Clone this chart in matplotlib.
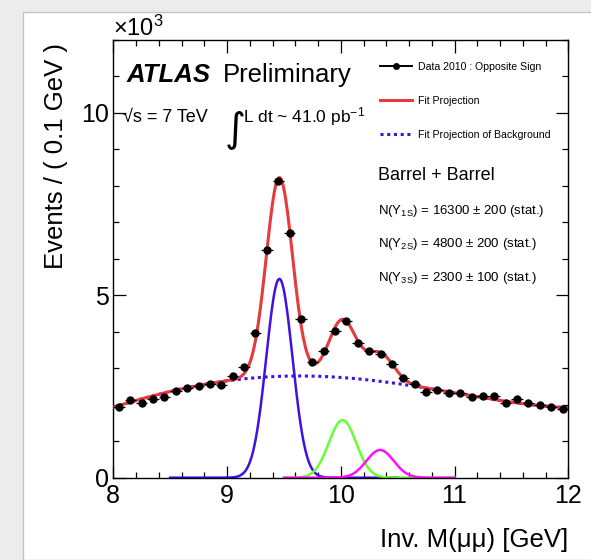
import numpy as np
import matplotlib
matplotlib.use("Agg")
import matplotlib.pyplot as plt
from matplotlib.lines import Line2D
from matplotlib.patches import Rectangle
from matplotlib.ticker import MultipleLocator

plt.rcParams['font.family'] = ['Liberation Sans', 'DejaVu Sans']
plt.rcParams['mathtext.fontset'] = 'custom'
plt.rcParams['mathtext.rm'] = 'Liberation Sans'
plt.rcParams['mathtext.it'] = 'Liberation Sans:italic'
plt.rcParams['mathtext.bf'] = 'Liberation Sans:bold'

# data, events per 0.1 GeV in units of 10^3
mass = [8.05, 8.15, 8.25, 8.35, 8.45, 8.55, 8.65, 8.75, 8.85, 8.95,
        9.05, 9.15, 9.25, 9.35, 9.45, 9.55, 9.65, 9.75, 9.85, 9.95,
        10.05, 10.15, 10.25, 10.35, 10.45, 10.55, 10.65, 10.75, 10.85, 10.95,
        11.05, 11.15, 11.25, 11.35, 11.45, 11.55, 11.65, 11.75, 11.85, 11.95]
events = [1.93, 2.13, 2.04, 2.15, 2.22, 2.38, 2.45, 2.51, 2.58, 2.54,
          2.80, 3.04, 3.97, 6.23, 8.13, 6.72, 4.35, 3.16, 3.47, 4.02,
          4.29, 3.68, 3.48, 3.40, 3.13, 2.72, 2.56, 2.36, 2.40, 2.33,
          2.33, 2.22, 2.25, 2.24, 2.06, 2.16, 2.05, 1.98, 1.95, 1.89]

# fit: background shape
bkg_m = [8.0, 8.5, 9.0, 9.5, 9.9, 10.2, 10.5, 10.75, 11.0, 11.5, 12.0]
bkg_y = [1.94, 2.34, 2.66, 2.80, 2.78, 2.69, 2.57, 2.43, 2.33, 2.10, 1.91]

# upsilon peaks: mean, sigma, height, drawn range
peak_mean = [9.46, 10.015, 10.345]
peak_sigma = [0.115, 0.12, 0.12]
peak_height = [5.45, 1.58, 0.76]
peak_lo = [8.5, 9.5, 9.5]
peak_hi = [10.5, 11.0, 11.0]
peak_color = ['#3f10e8', '#66ff33', '#ff10ff']

counts = ['16300 ± 200', '4800 ± 200', '2300 ± 100']
states = ['1S', '2S', '3S']

fig = plt.figure(figsize=(5.91, 5.6), dpi=100, facecolor='#ececec')
fig.patches.append(Rectangle((23 / 591, 0), 1, 1 - 11.7 / 560, transform=fig.transFigure,
                             facecolor='white', edgecolor='#c4c4c4', lw=1.0, zorder=-5))
ax = fig.add_axes([113.3 / 591, 82.3 / 560, 455 / 591, 437.7 / 560])
ax.set_zorder(2)

xs = np.linspace(8, 12, 801)
bkg = np.polyval(np.polyfit(bkg_m, bkg_y, 4), xs)
total = bkg.copy()
peaks = []
for mu, s, h in zip(peak_mean, peak_sigma, peak_height):
    g = h * np.exp(-0.5 * ((xs - mu) / s) ** 2)
    peaks.append(g)
    total += g

ax.plot(xs, bkg, color='#3f10e8', lw=2.2, ls=(0, (1, 1.2)), zorder=2)
ax.plot(xs, total, color='#e8393c', lw=2.2, zorder=3)
for g, lo, hi, c in zip(peaks, peak_lo, peak_hi, peak_color):
    sel = (xs >= lo) & (xs <= hi)
    ax.plot(xs[sel], g[sel], color=c, lw=1.8, zorder=2)

ax.errorbar(mass, events, xerr=0.05, fmt='o', color='black', ms=5,
            elinewidth=0.9, capsize=0, zorder=4)

ax.set_xlim(8, 12)
ax.set_ylim(0, 12)
ax.xaxis.set_major_locator(MultipleLocator(1))
ax.xaxis.set_minor_locator(MultipleLocator(0.2))
ax.yaxis.set_major_locator(MultipleLocator(5))
ax.yaxis.set_minor_locator(MultipleLocator(1))
ax.tick_params(which='both', direction='in', top=True, right=True, width=0.9)
ax.tick_params(which='major', length=9)
ax.tick_params(which='minor', length=4.5)
ax.tick_params(axis='x', labelsize=18, pad=4.5)
ax.tick_params(axis='y', labelsize=18, pad=3)
for sp in ax.spines.values():
    sp.set_linewidth(1.0)

ax.set_ylabel('Events / ( 0.1 GeV )', fontsize=18.5, loc='top')
ax.yaxis.set_label_coords(-0.100, 0.993)
ax.set_xlabel('Inv. M(μμ) [GeV]', fontsize=18.5, loc='right')
ax.xaxis.set_label_coords(1.0, -0.116)

fig.text(113 / 591, 1 - 36 / 560, r'×10$^{3}$', fontsize=17, va='baseline')

fig.text(127 / 591, 1 - 82 / 560, 'ATLAS', fontsize=18.5, fontweight='bold',
         fontstyle='italic', va='baseline')
fig.text(223 / 591, 1 - 82 / 560, 'Preliminary', fontsize=18.5, va='baseline')
fig.text(123 / 591, 1 - 122 / 560, '√s = 7 TeV', fontsize=13, va='baseline')
fig.text(225 / 591, 1 - 140 / 560, '∫', fontsize=29, va='baseline', family='DejaVu Sans')
fig.text(243 / 591, 1 - 122 / 560, r'L dt ~ 41.0 pb$^{-1}$', fontsize=12.5, va='baseline')

handles = [Line2D([], [], color='black', marker='o', ms=4, lw=1.4),
           Line2D([], [], color='#e8393c', lw=2.2),
           Line2D([], [], color='#3f10e8', lw=2.2, ls=(0, (1, 1.2)))]
labels = ['Data 2010 : Opposite Sign', 'Fit Projection', 'Fit Projection of Background']
fig.legend(handles, labels, loc='upper left', bbox_to_anchor=(380 / 591, 1 - 62 / 560),
           frameon=False, fontsize=7.6, handlelength=3.0, handletextpad=0.6,
           labelspacing=2.25, borderpad=0, borderaxespad=0)

fig.text(378 / 591, 1 - 175 / 560, 'Barrel + Barrel', fontsize=13, va='center')
for i, (st, n) in enumerate(zip(states, counts)):
    fig.text(378 / 591, 1 - (211 + 33.5 * i) / 560,
             r'N(Υ$_{\mathregular{' + st + r'}}$) = ' + n + ' (stat.)',
             fontsize=9.5, va='center')

fig.savefig('out.png', dpi=100, facecolor=fig.get_facecolor())
